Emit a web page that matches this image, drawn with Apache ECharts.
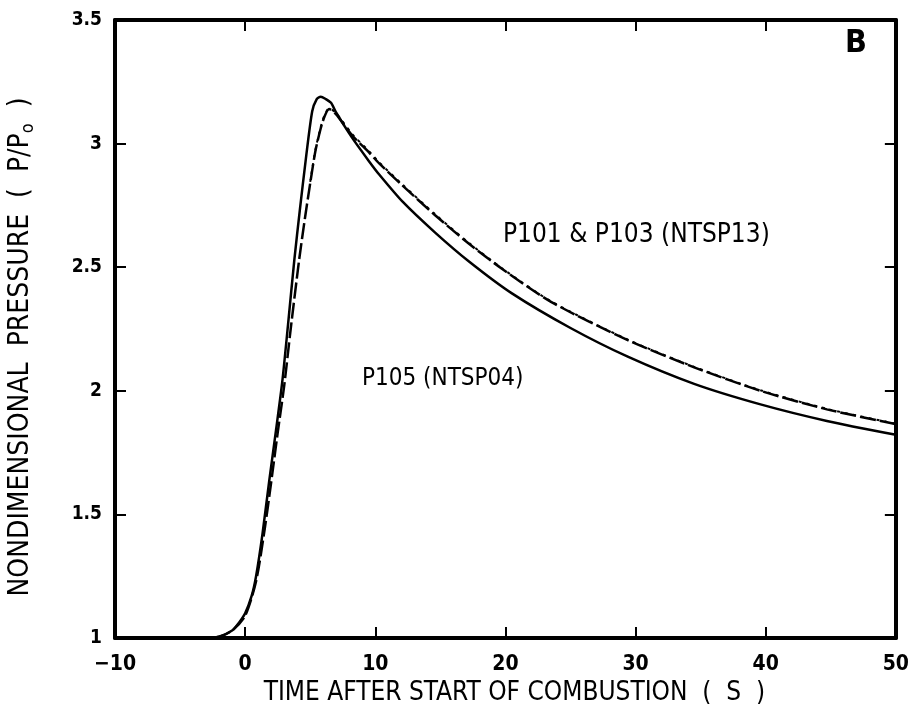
<!DOCTYPE html>
<html>
<head>
<meta charset="utf-8">
<script src="https://cdn.jsdelivr.net/npm/echarts@6/dist/echarts.min.js"></script>
<style>html,body{margin:0;padding:0;background:#fff}#c{width:912px;height:715px}</style>
</head>
<body>
<div id="c"></div>
<script>
// Time after start of combustion (s) and nondimensional pressure P/Po
const p105Time = [-10, -5, -3, -2, -1, -0.5, 0, 0.5, 0.84, 1.33, 1.86, 2.37, 2.86, 3.3, 3.78, 4.2, 4.67, 5.15, 5.5, 5.81, 6.2, 6.6, 7.0, 8.2, 9.5, 10.3, 12.1, 14.6, 17.2, 20.5, 25, 29.4, 34.5, 39.6, 44.7, 50];
const p105Value = [1, 1, 1, 1.005, 1.03, 1.06, 1.10, 1.17, 1.25, 1.42, 1.64, 1.84, 2.04, 2.27, 2.53, 2.73, 2.94, 3.13, 3.18, 3.19, 3.18, 3.165, 3.125, 3.025, 2.93, 2.875, 2.765, 2.64, 2.523, 2.394, 2.254, 2.138, 2.028, 1.945, 1.878, 1.822];

const p101Time = [-10, -5, -3, -2, -1, 0, 0.84, 1.5, 2.0, 2.5, 3.0, 3.5, 4.15, 4.6, 5.0, 5.4, 5.8, 6.1, 6.45, 6.96, 8.2, 9.5, 10.3, 12.1, 14.6, 17.2, 19.7, 23.5, 29.4, 34.5, 39.6, 44.7, 50];
const p101Value = [1, 1, 1, 1.005, 1.03, 1.09, 1.23, 1.44, 1.63, 1.83, 2.02, 2.25, 2.53, 2.70, 2.84, 2.97, 3.06, 3.11, 3.14, 3.12, 3.035, 2.965, 2.92, 2.83, 2.71, 2.595, 2.495, 2.36, 2.205, 2.095, 2.0, 1.925, 1.865];

const p103Time = [5.0, 5.4, 5.8, 6.1, 6.45, 6.96, 8.2, 9.5, 10.3, 12.1, 14.6, 17.2, 19.7, 23.5, 29.4, 34.5, 39.6, 44.7, 50];
const p103Value = [2.845, 2.975, 3.065, 3.115, 3.143, 3.125, 3.04, 2.97, 2.924, 2.834, 2.714, 2.598, 2.497, 2.362, 2.207, 2.097, 2.002, 1.927, 1.867];

const xTicks = { min: -10, max: 50, step: 10 };
const yTicks = { min: 1, max: 3.5, step: 0.5 };

const xTitle = 'TIME AFTER START OF COMBUSTION  (  S  )';
const yTitle = ['NONDIMENSIONAL  PRESSURE  (  P/P', 'o', '  )'];
const label101 = 'P101 & P103 (NTSP13)';
const label105 = 'P105 (NTSP04)';
const panel = 'B';

const zip = (a, b) => a.map((v, i) => [v, b[i]]);
const FONT = '"Liberation Sans Narrow", "DejaVu Sans Condensed", sans-serif';

const chart = echarts.init(document.getElementById('c'), null, { renderer: 'canvas' });
const axisLine = { show: true, onZero: false, lineStyle: { color: '#000', width: 4 } };
const tick = { show: true, inside: true, length: 11, lineStyle: { color: '#000', width: 2 } };

chart.setOption({
  backgroundColor: '#fff',
  animation: false,
  grid: { left: 115, right: 13, top: 20, bottom: 77, containLabel: false },
  xAxis: [{
    type: 'value', min: xTicks.min, max: xTicks.max, interval: xTicks.step,
    axisLine, axisTick: tick, splitLine: { show: false },
    axisLabel: { color: '#000', fontSize: 21, fontWeight: 'bold', fontFamily: FONT, margin: 16,
      formatter: v => String(v).replace('-', '\u2212') },
    name: xTitle, nameLocation: 'middle', nameGap: 40,
    nameTextStyle: { color: '#000', fontSize: 26, fontFamily: FONT, padding: [0, 0, 0, 18] }
  }, {
    type: 'value', position: 'top', min: xTicks.min, max: xTicks.max, interval: xTicks.step,
    axisLine, axisTick: tick, axisLabel: { show: false }, splitLine: { show: false }
  }],
  yAxis: [{
    type: 'value', min: yTicks.min, max: yTicks.max, interval: yTicks.step,
    axisLine, axisTick: tick, splitLine: { show: false },
    axisLabel: { color: '#000', fontSize: 19, fontWeight: 'bold', fontFamily: FONT, margin: 13 }
  }, {
    type: 'value', position: 'right', min: yTicks.min, max: yTicks.max, interval: yTicks.step,
    axisLine, axisTick: tick, axisLabel: { show: false }, splitLine: { show: false }
  }],
  series: [
    { name: 'P105 (NTSP04)', type: 'line', data: zip(p105Time, p105Value), showSymbol: false, smooth: 0.25,
      lineStyle: { color: '#000', width: 2.5 } },
    { name: 'P101 (NTSP13)', type: 'line', data: zip(p101Time, p101Value), showSymbol: false, smooth: 0.25,
      lineStyle: { color: '#000', width: 2.5, type: [16, 4] } },
    { name: 'P103 (NTSP13)', type: 'line', data: zip(p103Time, p103Value), showSymbol: false, smooth: 0.25,
      lineStyle: { color: '#000', width: 2, type: [3, 5] } }
  ],
  graphic: [
    { type: 'text', x: 21, y: 347, rotation: Math.PI / 2,
      style: { text: '{a|' + yTitle[0] + '}{s|' + yTitle[1] + '}{a|' + yTitle[2] + '}',
        align: 'center', verticalAlign: 'middle',
        rich: {
          a: { fill: '#000', fontSize: 28, fontFamily: FONT },
          s: { fill: '#000', fontSize: 18, fontFamily: FONT, padding: [14, 0, 0, 0] }
        } } },
    { type: 'text', left: 503, top: 222, style: { text: label101, fill: '#000', font: '26px ' + FONT } },
    { type: 'text', left: 362, top: 367, style: { text: label105, fill: '#000', font: '24px ' + FONT } },
    { type: 'text', left: 845, top: 28, style: { text: panel, fill: '#000', font: 'bold 32px ' + FONT } }
  ]
});
</script>
</body>
</html>
